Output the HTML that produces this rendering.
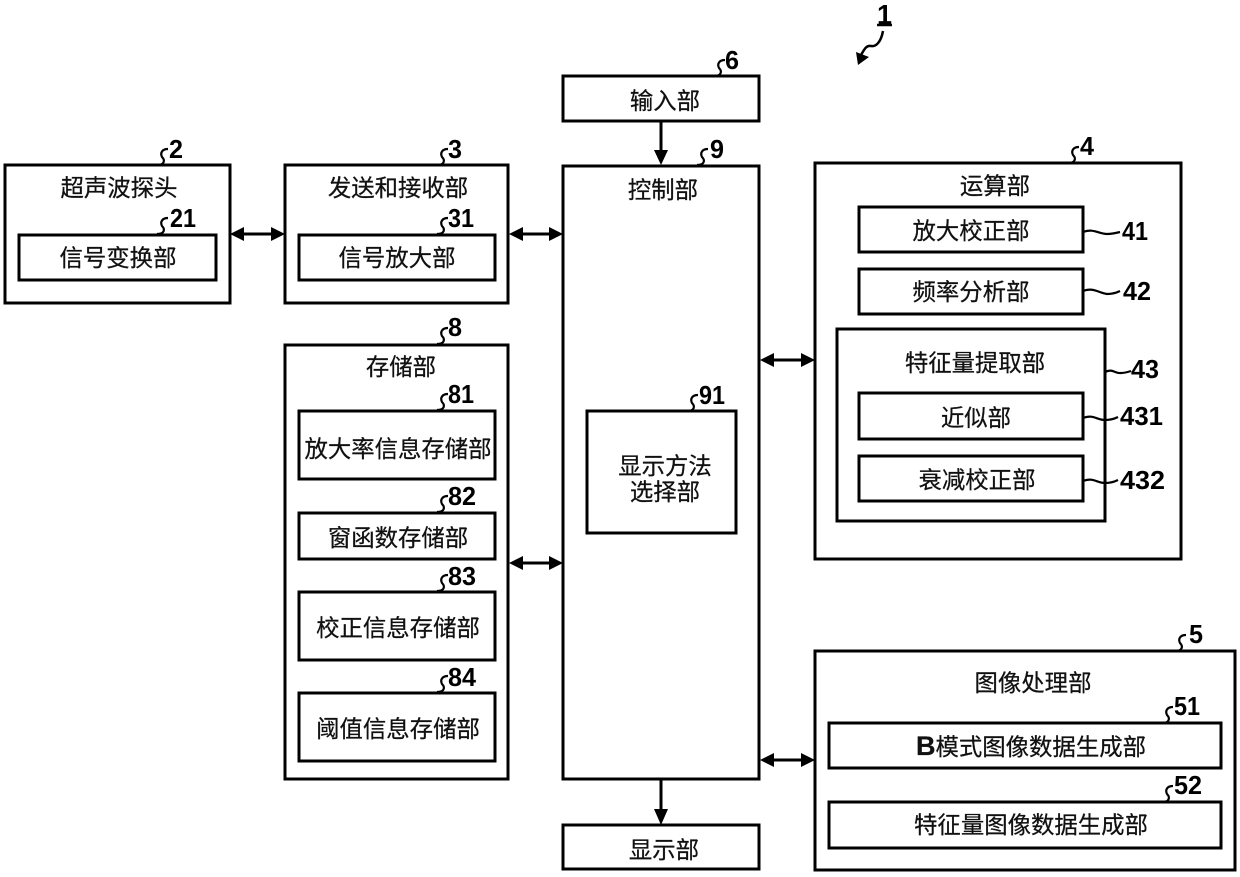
<!DOCTYPE html>
<html><head><meta charset="utf-8"><style>
html,body{margin:0;padding:0;background:#fff}
svg{display:block}
.t{font-family:"Liberation Sans","Noto Sans CJK SC",sans-serif;font-size:23.4px;text-anchor:middle;fill:#111;stroke:#111;stroke-width:.25}
.n{font-family:"Liberation Sans",sans-serif;font-weight:bold;font-size:26px;fill:#000}
rect{fill:none;stroke:#000;stroke-width:3}
.w{fill:none;stroke:#000;stroke-width:2.2}
.l{fill:none;stroke:#000;stroke-width:3}
</style></head><body>
<svg width="1240" height="877" viewBox="0 0 1240 877" xmlns="http://www.w3.org/2000/svg">
<rect x="5" y="165" width="225" height="138"/>
<rect x="19" y="235" width="197" height="45"/>
<rect x="285" y="165" width="223" height="138"/>
<rect x="299" y="235" width="196" height="45"/>
<rect x="285" y="345" width="223" height="434"/>
<rect x="299" y="411" width="196" height="68"/>
<rect x="299" y="513" width="196" height="46"/>
<rect x="299" y="592" width="196" height="68"/>
<rect x="299" y="693" width="196" height="68"/>
<rect x="563" y="76" width="196" height="45"/>
<rect x="563" y="166" width="196" height="613"/>
<rect x="587" y="411" width="149" height="122"/>
<rect x="563" y="825" width="196" height="44"/>
<rect x="815" y="163" width="366" height="396"/>
<rect x="859" y="207" width="224" height="45"/>
<rect x="859" y="269" width="224" height="45"/>
<rect x="837" y="329" width="268" height="192"/>
<rect x="859" y="393" width="224" height="46"/>
<rect x="859" y="456" width="224" height="45"/>
<rect x="815" y="651" width="420" height="219"/>
<rect x="829" y="723" width="392" height="45"/>
<rect x="829" y="802" width="392" height="46"/>

<text class="t" x="119" y="196">超声波探头</text>
<text class="t" x="118" y="266">信号变换部</text>
<text class="t" x="398" y="196">发送和接收部</text>
<text class="t" x="397" y="266">信号放大部</text>
<text class="t" x="401" y="375">存储部</text>
<text class="t" x="398" y="457">放大率信息存储部</text>
<text class="t" x="398" y="546">窗函数存储部</text>
<text class="t" x="398" y="636">校正信息存储部</text>
<text class="t" x="398" y="737">阈值信息存储部</text>
<text class="t" x="665" y="109">输入部</text>
<text class="t" x="663" y="198">控制部</text>
<text class="t" x="665" y="474">显示方法</text>
<text class="t" x="665" y="500">选择部</text>
<text class="t" x="664" y="858">显示部</text>
<text class="t" x="995" y="194">运算部</text>
<text class="t" x="971" y="239">放大校正部</text>
<text class="t" x="971" y="300">频率分析部</text>
<text class="t" x="975" y="371">特征量提取部</text>
<text class="t" x="976" y="426">近似部</text>
<text class="t" x="977" y="488">衰减校正部</text>
<text class="t" x="1033" y="691">图像处理部</text>
<text class="t" x="1031" y="755"><tspan font-weight="bold" font-size="27">B</tspan>模式图像数据生成部</text>
<text class="t" x="1031" y="833">特征量图像数据生成部</text>

<path class="w" d="M157 165c8 0 8-5 5-8c-2-4 0-8 6-8"/>
<path class="w" d="M157 234c8 0 8-5 5-8c-2-4 0-8 6-8"/>
<path class="w" d="M437 165c8 0 8-5 5-8c-2-4 0-8 6-8"/>
<path class="w" d="M437 234c8 0 8-5 5-8c-2-4 0-8 6-8"/>
<path class="w" d="M714 76c8 0 8-5 5-8c-2-4 0-8 6-8"/>
<path class="w" d="M697 165c8 0 8-5 5-8c-2-4 0-8 6-8"/>
<path class="w" d="M1068 163c8 0 8-5 5-8c-2-4 0-8 6-8"/>
<path class="w" d="M437 344c8 0 8-5 5-8c-2-4 0-8 6-8"/>
<path class="w" d="M437 410c8 0 8-5 5-8c-2-4 0-8 6-8"/>
<path class="w" d="M437 512c8 0 8-5 5-8c-2-4 0-8 6-8"/>
<path class="w" d="M437 591c8 0 8-5 5-8c-2-4 0-8 6-8"/>
<path class="w" d="M437 692c8 0 8-5 5-8c-2-4 0-8 6-8"/>
<path class="w" d="M687 411c8 0 8-5 5-8c-2-4 0-8 6-8"/>
<path class="w" d="M1175 651c8 0 8-5 5-8c-2-4 0-8 6-8"/>
<path class="w" d="M1162 723c8 0 8-5 5-8c-2-4 0-8 6-8"/>
<path class="w" d="M1162 802c8 0 8-5 5-8c-2-4 0-8 6-8"/>
<path class="w" d="M1083 232c10-4 16 2 24 2c5 0 9-1 13-2"/>
<path class="w" d="M1083 291c10-4 16 2 24 3c5 0 9-1 13-3"/>
<path class="w" d="M1105 372c8-4 10 2 16 1c4 0 7-1 10-2"/>
<path class="w" d="M1083 418c10-4 14 2 22 2c5 0 9-1 13-3"/>
<path class="w" d="M1083 481c10-4 14 2 22 2c5 0 9-1 13-3"/>

<text class="n" x="169" y="158" textLength="14" lengthAdjust="spacingAndGlyphs">2</text>
<text class="n" x="170" y="227" textLength="26" lengthAdjust="spacingAndGlyphs">21</text>
<text class="n" x="448" y="158" textLength="14" lengthAdjust="spacingAndGlyphs">3</text>
<text class="n" x="448" y="227" textLength="26" lengthAdjust="spacingAndGlyphs">31</text>
<text class="n" x="725" y="69" textLength="14" lengthAdjust="spacingAndGlyphs">6</text>
<text class="n" x="710" y="158" textLength="14" lengthAdjust="spacingAndGlyphs">9</text>
<text class="n" x="1080" y="155" textLength="14" lengthAdjust="spacingAndGlyphs">4</text>
<text class="n" x="448" y="336" textLength="14" lengthAdjust="spacingAndGlyphs">8</text>
<text class="n" x="448" y="403" textLength="26" lengthAdjust="spacingAndGlyphs">81</text>
<text class="n" x="448" y="505" textLength="28" lengthAdjust="spacingAndGlyphs">82</text>
<text class="n" x="448" y="585" textLength="28" lengthAdjust="spacingAndGlyphs">83</text>
<text class="n" x="448" y="686" textLength="28" lengthAdjust="spacingAndGlyphs">84</text>
<text class="n" x="699" y="404" textLength="26" lengthAdjust="spacingAndGlyphs">91</text>
<text class="n" x="1189" y="643" textLength="14" lengthAdjust="spacingAndGlyphs">5</text>
<text class="n" x="1174" y="715" textLength="26" lengthAdjust="spacingAndGlyphs">51</text>
<text class="n" x="1174" y="794" textLength="28" lengthAdjust="spacingAndGlyphs">52</text>
<text class="n" x="1122" y="240" textLength="26" lengthAdjust="spacingAndGlyphs">41</text>
<text class="n" x="1123" y="300" textLength="28" lengthAdjust="spacingAndGlyphs">42</text>
<text class="n" x="1131" y="378" textLength="28" lengthAdjust="spacingAndGlyphs">43</text>
<text class="n" x="1120" y="425" textLength="43" lengthAdjust="spacingAndGlyphs">431</text>
<text class="n" x="1120" y="489" textLength="45" lengthAdjust="spacingAndGlyphs">432</text>

<text class="n" x="877" y="24" textLength="15" lengthAdjust="spacingAndGlyphs" style="font-size:28px">1</text>
<path class="l" d="M877 25H892" style="stroke-width:2.500"/>
<path class="w" style="stroke-width:2.500" d="M883 31C881 42 876 47 871 46C866 45 864 50 861 55"/>
<path d="M858 65L856 52L869 57Z" fill="#000"/>

<path class="l" d="M236 234H279"/><path d="M230 234L244 227V241Z M285 234L271 227V241Z" fill="#000"/>
<path class="l" d="M515 234H557"/><path d="M509 234L523 227V241Z M563 234L549 227V241Z" fill="#000"/>
<path class="l" d="M766 360H809"/><path d="M760 360L774 353V367Z M815 360L801 353V367Z" fill="#000"/>
<path class="l" d="M515 563H557"/><path d="M509 563L523 556V570Z M563 563L549 556V570Z" fill="#000"/>
<path class="l" d="M766 760H809"/><path d="M760 760L774 753V767Z M815 760L801 753V767Z" fill="#000"/>
<path class="l" d="M661 121V155"/><path d="M661 165L654 150H668Z" fill="#000"/>
<path class="l" d="M661 780V814"/><path d="M661 825L654 809H668Z" fill="#000"/>
</svg>
</body></html>
